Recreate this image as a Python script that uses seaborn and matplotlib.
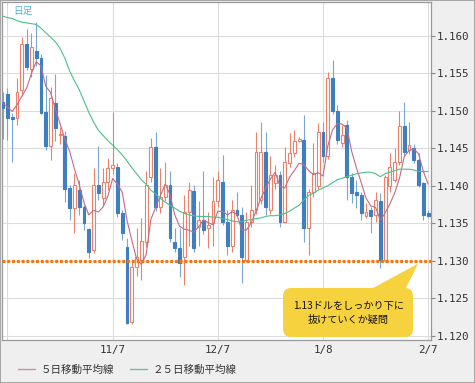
import numpy as np
import pandas as pd
import matplotlib
matplotlib.use('Agg')
import matplotlib.pyplot as plt
import seaborn as sns
from matplotlib.patches import FancyBboxPatch, Polygon, Rectangle
from matplotlib.lines import Line2D

sns.set_theme(style='white')
plt.rcParams['font.family'] = ['Noto Sans CJK JP', 'DejaVu Sans']

# ── daily candles, 2018/10/5 .. 2019/2/7 ─────────────────────
opens = [1.1512, 1.1522, 1.1492, 1.1490, 1.1527, 1.1589, 1.1556, 1.1580, 1.1570, 1.1498,
         1.1453, 1.1510, 1.1467, 1.1466, 1.1397, 1.1370, 1.1394, 1.1372, 1.1342, 1.1314,
         1.1401, 1.1384, 1.1405, 1.1424, 1.1425, 1.1364, 1.1318, 1.1218, 1.1291, 1.1301,
         1.1325, 1.1412, 1.1452, 1.1372, 1.1385, 1.1401, 1.1325, 1.1317, 1.1305, 1.1365,
         1.1393, 1.1345, 1.1354, 1.1344, 1.1350, 1.1379, 1.1405, 1.1352, 1.1319, 1.1368,
         1.1361, 1.1301, 1.1352, 1.1368, 1.1381, 1.1445, 1.1368, 1.1403, 1.1414, 1.1352,
         1.1430, 1.1444, 1.1460, 1.1461, 1.1343, 1.1392, 1.1399, 1.1472, 1.1439, 1.1544,
         1.1499, 1.1457, 1.1481, 1.1412, 1.1392, 1.1388, 1.1359, 1.1367, 1.1361, 1.1380,
         1.1301, 1.1399, 1.1408, 1.1432, 1.1479, 1.1448, 1.1450, 1.1434, 1.1403, 1.1364]
highs = [1.1525, 1.1530, 1.1497, 1.1543, 1.1598, 1.1609, 1.1604, 1.1618, 1.1575, 1.1547,
         1.1532, 1.1549, 1.1478, 1.1473, 1.1401, 1.1417, 1.1407, 1.1374, 1.1343, 1.1424,
         1.1453, 1.1424, 1.1437, 1.1498, 1.1430, 1.1368, 1.1330, 1.1300, 1.1343, 1.1357,
         1.1419, 1.1464, 1.1472, 1.1424, 1.1432, 1.1419, 1.1344, 1.1344, 1.1388, 1.1405,
         1.1401, 1.1379, 1.1419, 1.1365, 1.1412, 1.1419, 1.1441, 1.1368, 1.1381, 1.1392,
         1.1372, 1.1365, 1.1401, 1.1472, 1.1485, 1.1472, 1.1439, 1.1428, 1.1419, 1.1452,
         1.1470, 1.1474, 1.1465, 1.1494, 1.1395, 1.1457, 1.1484, 1.1485, 1.1552, 1.1568,
         1.1508, 1.1481, 1.1488, 1.1417, 1.1408, 1.1392, 1.1377, 1.1372, 1.1392, 1.1390,
         1.1414, 1.1444, 1.1450, 1.1499, 1.1512, 1.1485, 1.1455, 1.1444, 1.1405, 1.1368]
lows = [1.1462, 1.1461, 1.1432, 1.1481, 1.1520, 1.1554, 1.1545, 1.1560, 1.1495, 1.1447,
        1.1434, 1.1460, 1.1455, 1.1378, 1.1354, 1.1337, 1.1361, 1.1341, 1.1304, 1.1310,
        1.1381, 1.1374, 1.1394, 1.1415, 1.1358, 1.1328, 1.1216, 1.1216, 1.1280, 1.1274,
        1.1318, 1.1405, 1.1366, 1.1364, 1.1380, 1.1325, 1.1312, 1.1278, 1.1268, 1.1319,
        1.1312, 1.1319, 1.1335, 1.1317, 1.1319, 1.1372, 1.1348, 1.1308, 1.1312, 1.1359,
        1.1270, 1.1298, 1.1345, 1.1362, 1.1375, 1.1361, 1.1362, 1.1395, 1.1345, 1.1350,
        1.1425, 1.1438, 1.1458, 1.1325, 1.1308, 1.1385, 1.1395, 1.1432, 1.1435, 1.1495,
        1.1455, 1.1452, 1.1381, 1.1377, 1.1370, 1.1354, 1.1357, 1.1337, 1.1352, 1.1290,
        1.1298, 1.1392, 1.1405, 1.1428, 1.1440, 1.1442, 1.1430, 1.1398, 1.1354, 1.1358]
closes = [1.1503, 1.1490, 1.1489, 1.1525, 1.1589, 1.1558, 1.1585, 1.1570, 1.1497, 1.1453,
          1.1517, 1.1477, 1.1469, 1.1396, 1.1370, 1.1401, 1.1372, 1.1350, 1.1312, 1.1401,
          1.1390, 1.1405, 1.1424, 1.1428, 1.1364, 1.1337, 1.1217, 1.1291, 1.1305, 1.1326,
          1.1401, 1.1452, 1.1372, 1.1385, 1.1401, 1.1330, 1.1317, 1.1297, 1.1365, 1.1394,
          1.1317, 1.1354, 1.1341, 1.1348, 1.1379, 1.1408, 1.1352, 1.1319, 1.1368, 1.1361,
          1.1305, 1.1352, 1.1368, 1.1445, 1.1445, 1.1372, 1.1414, 1.1414, 1.1352, 1.1432,
          1.1444, 1.1459, 1.1462, 1.1344, 1.1392, 1.1417, 1.1472, 1.1439, 1.1544, 1.1499,
          1.1461, 1.1468, 1.1412, 1.1390, 1.1388, 1.1363, 1.1365, 1.1359, 1.1381, 1.1301,
          1.1412, 1.1425, 1.1432, 1.1479, 1.1445, 1.1454, 1.1434, 1.1401, 1.1361, 1.1360]

# first 4 points of the 5-day line (window starts before the chart)
ma5_head = [1.1510, 1.1505, 1.1499, 1.1508]
ma25 = [1.1626, 1.1624, 1.1623, 1.1620, 1.1618, 1.1617, 1.1616, 1.1615, 1.1610, 1.1604,
        1.1598, 1.1592, 1.1583, 1.1570, 1.1553, 1.1540, 1.1528, 1.1513, 1.1498, 1.1485,
        1.1474, 1.1467, 1.1460, 1.1454, 1.1448, 1.1441, 1.1433, 1.1424, 1.1416, 1.1408,
        1.1402, 1.1394, 1.1389, 1.1383, 1.1378, 1.1374, 1.1370, 1.1366, 1.1363, 1.1361,
        1.1360, 1.1359, 1.1359, 1.1359, 1.1358, 1.1358, 1.1356, 1.1355, 1.1353, 1.1352,
        1.1352, 1.1354, 1.1355, 1.1356, 1.1357, 1.1359, 1.1360, 1.1360, 1.1361, 1.1363,
        1.1366, 1.1370, 1.1374, 1.1381, 1.1387, 1.1390, 1.1394, 1.1397, 1.1400, 1.1404,
        1.1408, 1.1410, 1.1412, 1.1414, 1.1416, 1.1417, 1.1418, 1.1418, 1.1416, 1.1412,
        1.1416, 1.1418, 1.1420, 1.1422, 1.1422, 1.1422, 1.1421, 1.1419, 1.1419, 1.1419]

tick_pos    = [1, 23, 45, 67, 89]
tick_labels = ['', '11/7', '12/7', '1/8', '2/7']
price_ticks = [1.120, 1.125, 1.130, 1.135, 1.140, 1.145, 1.150, 1.155, 1.160]
support     = 1.130
note_text   = '1.13ドルをしっかり下に\n抜けていくか疑問'
legend_lbls = ['５日移動平均線', '２５日移動平均線']

UP, DOWN     = '#e8826c', '#3f7fbf'
DOWN_WICK    = '#7aa6d2'
MA5_C, MA25_C = '#c56a86', '#4cbf8c'

df = pd.DataFrame({'open': opens, 'high': highs, 'low': lows, 'close': closes})
df['i'] = np.arange(len(df))
df['ma5'] = df['close'].rolling(5).mean()
df.loc[:3, 'ma5'] = ma5_head
df['ma25'] = ma25
up = df['close'] >= df['open']

fig = plt.figure(figsize=(4.75, 3.83), dpi=100, facecolor='#efefef')
ax = fig.add_axes([2/475, 43/383, 429/475, 338/383])
ax.set_facecolor('white')

# grid
for p in price_ticks:
    ax.axhline(p, color='#dcdcdc', lw=0.8, zorder=0)
for t in tick_pos:
    ax.axvline(t, color='#dcdcdc', lw=0.8, zorder=0)

# candles
ax.vlines(df.loc[up, 'i'], df.loc[up, 'low'], df.loc[up, 'high'], color=UP, lw=0.8, zorder=2)
ax.vlines(df.loc[~up, 'i'], df.loc[~up, 'low'], df.loc[~up, 'high'], color=DOWN_WICK, lw=0.8, zorder=2)
body_lo = df[['open', 'close']].min(axis=1)
body_h = (df['close'] - df['open']).abs().clip(lower=0.00008)
ax.bar(df.loc[up, 'i'], body_h[up], bottom=body_lo[up], width=0.6,
       facecolor='white', edgecolor=UP, lw=0.8, zorder=3)
ax.bar(df.loc[~up, 'i'], body_h[~up], bottom=body_lo[~up], width=0.6,
       facecolor=DOWN, edgecolor=DOWN, lw=0.8, zorder=3)

# moving averages
sns.lineplot(data=df, x='i', y='ma5', ax=ax, color=MA5_C, lw=0.8, zorder=4)
sns.lineplot(data=df, x='i', y='ma25', ax=ax, color=MA25_C, lw=0.8, zorder=4)

# 1.130 line
ax.axhline(support, color='#f07814', lw=2.3, ls=(0, (0.9, 0.6)), zorder=5)

ax.set_xlim(-0.15, 89.6)
ax.set_ylim(1.11943, 1.16449)
ax.set_xticks(tick_pos)
ax.set_xticklabels(tick_labels, family='DejaVu Sans Mono', fontsize=7.8, color='#333333')
ax.set_yticks(price_ticks)
ax.set_yticklabels([f'{p:.3f}' for p in price_ticks], family='DejaVu Sans Mono',
                   fontsize=7.8, color='#333333')
ax.yaxis.tick_right()
ax.tick_params(axis='y', length=3, width=0.8, color='#888888', pad=1)
ax.tick_params(axis='x', length=0, pad=3.5)
ax.set_xlabel('')
ax.set_ylabel('')
for s in ax.spines.values():
    s.set_color('#999999')
    s.set_linewidth(0.9)

ax.text(0.026, 0.975, '日足', transform=ax.transAxes, color='#4db6d6',
        fontsize=7, va='center', ha='left')

# callout
box = FancyBboxPatch((0.655, 0.009), 0.303, 0.145, transform=ax.transAxes,
                     boxstyle='round,pad=0,rounding_size=0.019', mutation_aspect=1.27,
                     facecolor='#f5d23e', edgecolor='none', zorder=6)
ax.add_patch(box)
ax.add_patch(Polygon([(0.852, 0.145), (0.938, 0.145), (0.970, 0.226)], closed=True,
                     transform=ax.transAxes, facecolor='#f5d23e', edgecolor='none', zorder=6))
ax.text(0.807, 0.080, note_text, transform=ax.transAxes, ha='center', va='center',
        fontsize=7.3, linespacing=1.55, color='#111111', zorder=7)

# legend
handles = [Line2D([], [], color='#d98c9c', lw=1), Line2D([], [], color='#66c49a', lw=1)]
fig.legend(handles, legend_lbls, loc='center left', bbox_to_anchor=(0.018, 0.034),
           ncol=2, frameon=False, fontsize=7.6, handlelength=1.6, handletextpad=0.55,
           columnspacing=1.5, labelcolor='#333333')

fig.patches.append(Rectangle((0, 0), 1, 1, transform=fig.transFigure, fill=False,
                             edgecolor='#999999', lw=1.2))

fig.savefig('out.png', dpi=100, facecolor=fig.get_facecolor())
